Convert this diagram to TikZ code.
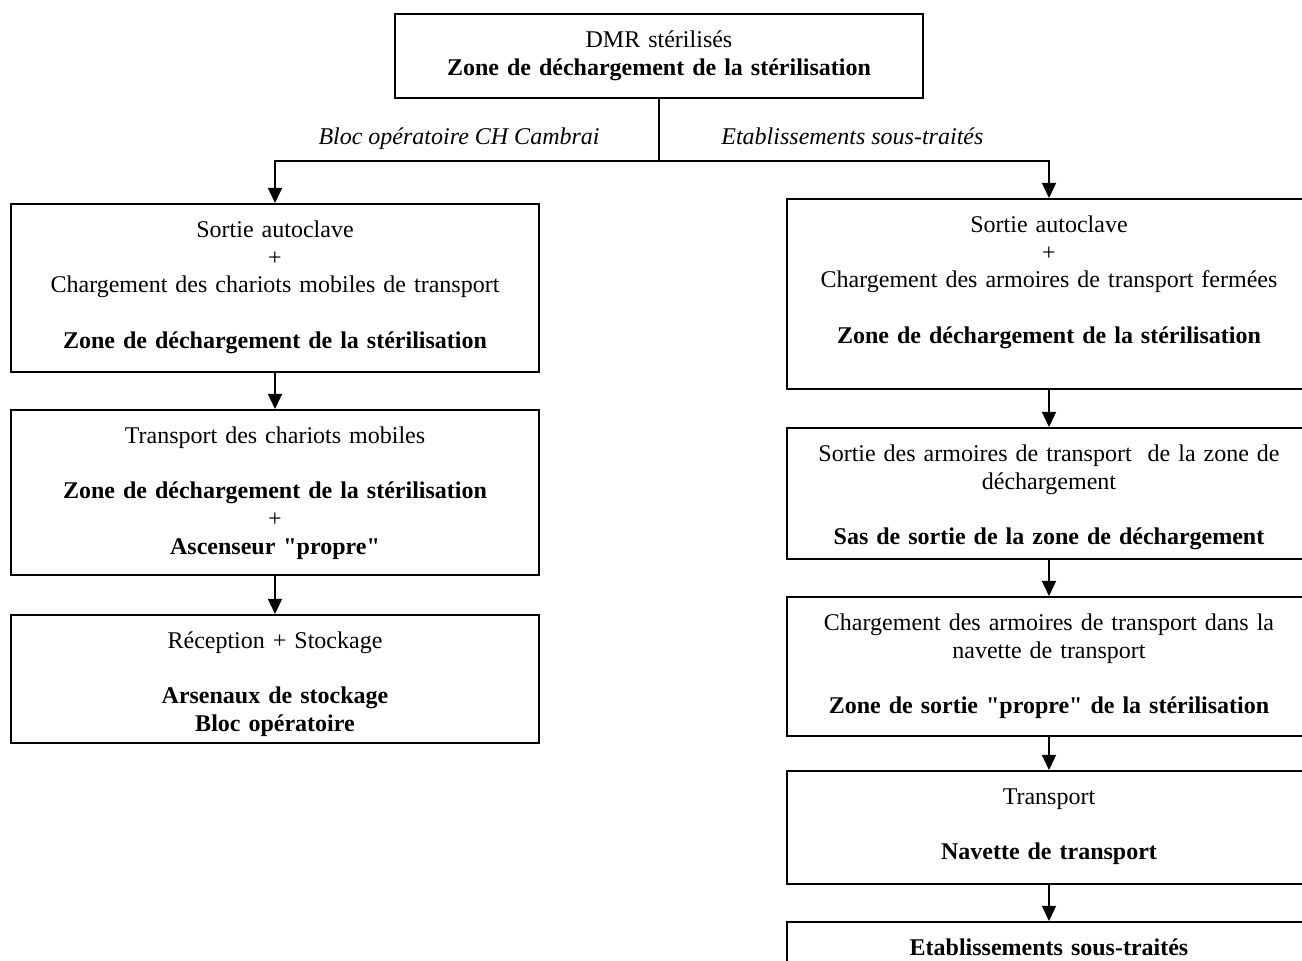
\documentclass[tikz,border=0pt]{standalone}
\usepackage{fontspec}
\setmainfont{Liberation Serif}
\usetikzlibrary{arrows.meta}

\begin{document}
\begin{tikzpicture}[x=0.5pt, y=-0.5pt,
    font=\fontsize{12}{13.8}\selectfont,
    stage/.style={draw, line width=0.8pt, align=center, anchor=north,
      inner xsep=4pt, inner ysep=8pt, text height=9pt},
    leftstage/.style={stage, text width=256pt},
    rightstage/.style={stage, text width=254pt},
    flow/.style={line width=0.7pt, -{Triangle[width=7pt,length=7.5pt]}},
    branch/.style={font=\fontsize{12}{13.8}\selectfont\itshape, inner sep=0pt}]

        % Page frame
        \useasboundingbox (0,0) rectangle (1302,961);
        \clip (0,0) rectangle (1302,961);

        % Start
        \node[stage, text width=256pt, text depth=17pt] (dmr) at (659,13)
            {DMR stérilisés\\ \textbf{Zone de déchargement de la stérilisation}};
        \coordinate (split) at (659,161);

        % Branch labels
        \node[branch, anchor=base east] (tagCH) at (600,145) {Bloc opératoire CH Cambrai};
        \node[branch, anchor=base west] (tagST) at (721,145) {Etablissements sous-traités};

        % Left column: bloc opératoire CH Cambrai
        \node[leftstage, text depth=59pt] (chA) at (275,203)
            {Sortie autoclave\\ +\\ Chargement des chariots mobiles de transport\\[13.8pt]
             \textbf{Zone de déchargement de la stérilisation}};
        \node[leftstage, text depth=57.5pt] (chB) at (275,409)
            {Transport des chariots mobiles\\[13.8pt]
             \textbf{Zone de déchargement de la stérilisation}\\ +\\
             \textbf{Ascenseur \textquotedbl propre\textquotedbl}};
        \node[leftstage, text depth=39pt] (chC) at (275,614)
            {Réception + Stockage\\[13.8pt]
             \textbf{Arsenaux de stockage}\\ \textbf{Bloc opératoire}};

        % Right column: établissements sous-traités
        \node[rightstage, text depth=70pt] (stA) at (1049,198)
            {Sortie autoclave\\ +\\ Chargement des armoires de transport fermées\\[13.8pt]
             \textbf{Zone de déchargement de la stérilisation}};
        \node[rightstage, text depth=40.5pt] (stB) at (1049,427)
            {Sortie des armoires de transport \ de la zone de\\ déchargement\\[13.8pt]
             \textbf{Sas de sortie de la zone de déchargement}};
        \node[rightstage, text depth=44.5pt] (stC) at (1049,596)
            {Chargement des armoires de transport dans la\\ navette de transport\\[13.8pt]
             \textbf{Zone de sortie \textquotedbl propre\textquotedbl{} de la stérilisation}};
        \node[rightstage, text depth=31.5pt] (stD) at (1049,770)
            {Transport\\[13.8pt] \textbf{Navette de transport}};
        \node[rightstage, text depth=15pt] (stE) at (1049,921)
            {\textbf{Etablissements sous-traités}};

        % Connectors
        \draw[line width=0.7pt] (dmr.south) -- (split);
        \draw[flow] (split) -| (chA.north);
        \draw[flow] (split) -| (stA.north);
        \draw[flow] (chA) -- (chB);
        \draw[flow] (chB) -- (chC);
        \draw[flow] (stA) -- (stB);
        \draw[flow] (stB) -- (stC);
        \draw[flow] (stC) -- (stD);
        \draw[flow] (stD) -- (stE);

    \end{tikzpicture}
\end{document}
